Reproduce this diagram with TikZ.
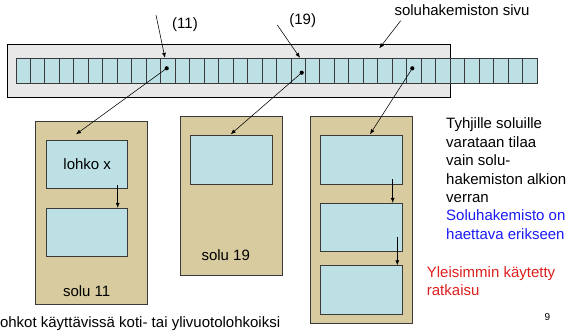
\documentclass[tikz,border=0pt]{standalone}
\usepackage{fontspec}
\setmainfont{Liberation Sans}
\usetikzlibrary{arrows.meta}
\definecolor{cellblue}{HTML}{BCE0E3}
\definecolor{boxtan}{HTML}{D7CB9F}
\definecolor{pagegray}{HTML}{E8E8E8}
\definecolor{txtblue}{HTML}{1A1AF5}
\definecolor{txtred}{HTML}{DD1E1E}
\definecolor{edgegray}{HTML}{3A3A3A}
\begin{document}
\begin{tikzpicture}[x=1pt,y=-1pt,
  every node/.style={font=\fontsize{15}{18}\selectfont},
  cellbox/.style={draw=edgegray,fill=cellblue,line width=0.9pt,minimum width=14.47pt,minimum height=25pt,inner sep=0pt},
  pagebox/.style={draw=black,fill=pagegray,line width=0.9pt,inner sep=0pt},
  solubox/.style={draw=edgegray,fill=boxtan,line width=0.9pt,inner sep=0pt},
  lohkobox/.style={draw=edgegray,fill=cellblue,line width=0.9pt,inner sep=0pt,minimum width=82pt,minimum height=48pt},
  dotmark/.style={circle,fill=black,inner sep=0pt,minimum size=4.2pt},
  arr/.style={draw=black,line width=0.55pt,-{Latex[length=5pt,width=4pt]}},
  lbl/.style={inner sep=0pt,anchor=mid west}
]
\useasboundingbox (0,0) rectangle (567,333);
% page of the directory
\node[pagebox,minimum width=443.7pt,minimum height=53.5pt] (page) at (228.85,70.75) {};
\foreach \i in {0,...,35}{
  \node[cellbox] (c\i) at ({16+(\i+0.5)*14.472},70.8) {};
}
% cell boxes
\node[solubox,minimum width=111.6pt,minimum height=182.3pt] (solu11) at (91.5,212.85) {};
\node[solubox,minimum width=101.3pt,minimum height=159.7pt] (solu19) at (231.35,195.85) {};
\node[solubox,minimum width=101.3pt,minimum height=207.3pt] (soluC) at (361.35,219.65) {};
% blocks
\node[lohkobox,minimum width=81pt,minimum height=47.6pt] (A1) at (87.2,164.5) {lohko x};
\node[lohkobox,minimum width=81pt,minimum height=47.7pt] (A2) at (87.2,232.15) {};
\node[lohkobox,minimum width=82.7pt,minimum height=48.3pt] (B1) at (231.35,159.85) {};
\node[lohkobox,minimum width=82.7pt,minimum height=48.3pt] (C1) at (361.35,159.85) {};
\node[lohkobox,minimum width=82.7pt,minimum height=48.4pt] (C2) at (361.35,227.5) {};
\node[lohkobox,minimum width=82.7pt,minimum height=48.3pt] (C3) at (361.35,289.85) {};
% labels in boxes
\node[inner sep=0pt] (l11) at (86.7,290.7) {solu 11};
\node[inner sep=0pt] (l19) at (225.7,255) {solu 19};
% dots
\node[dotmark] (d11) at (166.7,68.3) {};
\node[dotmark] (d19) at (301.7,72.7) {};
\node[dotmark] (d27) at (412.3,68.3) {};
% top labels
\node[inner sep=0pt] (t11) at (185,25) {(11)};
\node[inner sep=0pt] (t19) at (302.7,20.7) {(19)};
\node[lbl] (tsivu) at (394.3,12.7) {soluhakemiston sivu};
\coordinate (s11) at (156,15);
\coordinate (s19) at (277.3,25);
\coordinate (ssivu) at (400.7,20.7);
\coordinate (pagetip) at (379.3,48.3);
\coordinate (tipA) at (76,134.3);
\coordinate (tipB) at (230.7,134.3);
\coordinate (tipC) at (370,134.3);
% arrows
\draw[arr] (s11) -- ([xshift=-3pt]c10.north);
\draw[arr] (s19) -- ([xshift=1.8pt]c19.north);
\draw[arr] (ssivu) -- (pagetip);
\draw[arr] (d11.center) -- (tipA);
\draw[arr] (d19.center) -- (tipB);
\draw[arr] (d27.center) -- (tipC);
\draw[arr] ([yshift=4pt]A1.south -| 117.7,0) -- (A2.north -| 117.7,0);
\draw[arr] ([yshift=5pt]C1.south -| 392.7,0) -- (C2.north -| 392.7,0);
\draw[arr] ([yshift=15pt]C2.south -| 397.3,0) -- (C3.north -| 397.3,0);
% right text
\node[lbl] (r1) at (446,126) {Tyhjille soluille};
\node[lbl] (r2) at (446,144.6) {varataan tilaa};
\node[lbl] (r3) at (446,163) {vain solu-};
\node[lbl] (r4) at (446,181.5) {hakemiston alkion};
\node[lbl] (r5) at (446,199.8) {verran};
\node[lbl,text=txtblue] (b1) at (446,218.2) {Soluhakemisto on};
\node[lbl,text=txtblue] (b2) at (446,236.6) {haettava erikseen};
\node[lbl,text=txtred] (y1) at (426.7,275) {Yleisimmin käytetty};
\node[lbl,text=txtred] (y2) at (426.7,293.3) {ratkaisu};
\node[inner sep=0pt,font=\fontsize{10}{12}\selectfont] (pg) at (547.3,316.7) {9};
% bottom text
\node[lbl] (bottom) at (-3.5,325.3) {lohkot käyttävissä koti- tai ylivuotolohkoiksi};
\end{tikzpicture}
\end{document}
